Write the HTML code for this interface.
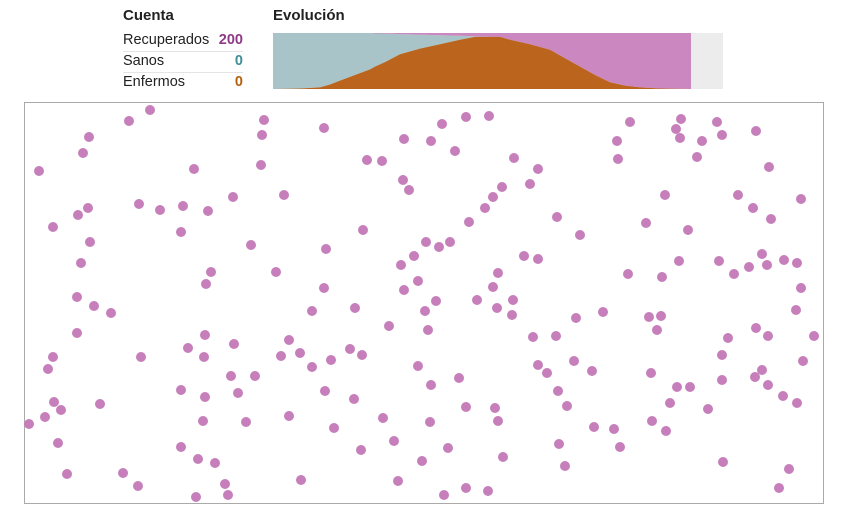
<!DOCTYPE html>
<html><head><meta charset="utf-8"><style>
body{margin:0;width:850px;height:528px;background:#fff;font-family:"Liberation Sans Narrow","Liberation Sans",sans-serif;position:relative;overflow:hidden;color:#222}
.h{position:absolute;font-weight:bold;font-size:15px;top:7px}
.row{position:absolute;left:123px;width:120px;font-size:14.5px;height:20px;line-height:20px}
.row span{position:absolute;right:0;font-weight:bold}
.sep{position:absolute;left:123px;width:120px;height:1px;background:#e4e4e4}
</style></head><body>
<div class="h" style="left:123px">Cuenta</div>
<div class="h" style="left:273px">Evolución</div>
<div class="row" style="top:30px">Recuperados<span style="color:#8e3a86">200</span></div>
<div class="sep" style="top:51px"></div>
<div class="row" style="top:51px">Sanos<span style="color:#3d8e99">0</span></div>
<div class="sep" style="top:72px"></div>
<div class="row" style="top:72px">Enfermos<span style="color:#b5600f">0</span></div>
<svg id="evo" style="position:absolute;left:273px;top:33px" width="450" height="56"></svg>
<svg id="sim" style="position:absolute;left:0;top:0" width="850" height="528"></svg>
<script>
const evoX=[273,300,320,330,340,355,370,375,385,400,420,440,460,475,490,500,510,530,550,565,580,595,610,625,640,660,691];
const sickFrac=[0,0.01,0.03,0.08,0.15,0.25,0.35,0.4,0.48,0.62,0.72,0.8,0.88,0.93,0.93,0.93,0.88,0.8,0.7,0.55,0.4,0.25,0.12,0.06,0.03,0.01,0];
const recFrac=[0,0,0,0,0,0,0,0.01,0.01,0.02,0.03,0.04,0.05,0.06,0.07,0.07,0.12,0.2,0.3,0.45,0.6,0.75,0.88,0.94,0.97,0.99,1];
const NS="http://www.w3.org/2000/svg";
const evo=document.getElementById('evo');
const H=56, fx=x=>x-273, fy=f=>H-f*H;
function poly(top,bot,color,name){const p=document.createElementNS(NS,'polygon');let pts=[];
for(let i=0;i<evoX.length;i++)pts.push(fx(evoX[i])+','+fy(top[i]));
for(let i=evoX.length-1;i>=0;i--)pts.push(fx(evoX[i])+','+fy(bot[i]));
p.setAttribute('points',pts.join(' '));p.setAttribute('fill',color);


evo.appendChild(p);}
const bg=document.createElementNS(NS,'rect');bg.setAttribute('width',450);bg.setAttribute('height',56);bg.setAttribute('fill','#ececec');


evo.appendChild(bg);
const zero=evoX.map(()=>0),one=evoX.map(()=>1),recBot=recFrac.map(r=>1-r);
poly(recBot,sickFrac,'#a9c4c8','healthy-area');
poly(one,recBot,'#cb88c0','recovered-area');
poly(sickFrac,zero,'#bb641d','sick-area');
const dotX=[129,150,89,83,39,264,262,324,466,489,442,404,431,455,367,382,261,194,681,676,717,680,702,722,756,617,630,618,697,769,514,538,530,502,493,485,469,403,409,139,160,183,208,233,284,88,78,53,90,81,181,251,326,363,426,439,450,414,401,418,404,498,493,477,497,513,512,436,524,538,557,580,665,646,688,738,753,771,801,679,719,734,749,762,767,784,797,801,796,628,662,211,206,276,324,77,94,111,77,312,355,389,425,428,576,603,649,661,657,728,756,768,814,53,48,141,188,204,205,234,289,281,300,331,350,362,312,418,533,556,538,547,574,592,651,722,762,755,803,54,61,45,29,100,181,205,231,255,238,325,354,431,459,558,567,677,690,670,708,722,768,783,797,466,495,203,246,289,334,383,430,498,594,614,652,666,58,181,198,215,361,394,422,448,503,559,620,723,67,123,138,196,225,228,301,398,444,466,488,565,789,779];
const dotY=[121,110,137,153,171,120,135,128,117,116,124,139,141,151,160,161,165,169,119,129,122,138,141,135,131,141,122,159,157,167,158,169,184,187,197,208,222,180,190,204,210,206,211,197,195,208,215,227,242,263,232,245,249,230,242,247,242,256,265,281,290,273,287,300,308,300,315,301,256,259,217,235,195,223,230,195,208,219,199,261,261,274,267,254,265,260,263,288,310,274,277,272,284,272,288,297,306,313,333,311,308,326,311,330,318,312,317,316,330,338,328,336,336,357,369,357,348,357,335,344,340,356,353,360,349,355,367,366,337,336,365,373,361,371,373,355,370,377,361,402,410,417,424,404,390,397,376,376,393,391,399,385,378,391,406,387,387,403,409,380,385,396,403,407,408,421,422,416,428,418,422,421,427,429,421,431,443,447,459,463,450,441,461,448,457,444,447,462,474,473,486,497,484,495,480,481,495,488,491,466,469,488];
const sim=document.getElementById('sim');
const box=document.createElementNS(NS,'rect');
box.setAttribute('x',24.5);box.setAttribute('y',102.5);box.setAttribute('width',799);box.setAttribute('height',401);
box.setAttribute('fill','none');box.setAttribute('stroke','#aaa');


sim.appendChild(box);
for(let i=0;i<dotX.length;i++){const c=document.createElementNS(NS,'circle');
c.setAttribute('cx',dotX[i]);c.setAttribute('cy',dotY[i]);c.setAttribute('r',5);c.setAttribute('fill','#c67fbb');


sim.appendChild(c);}
</script>
</body></html>
